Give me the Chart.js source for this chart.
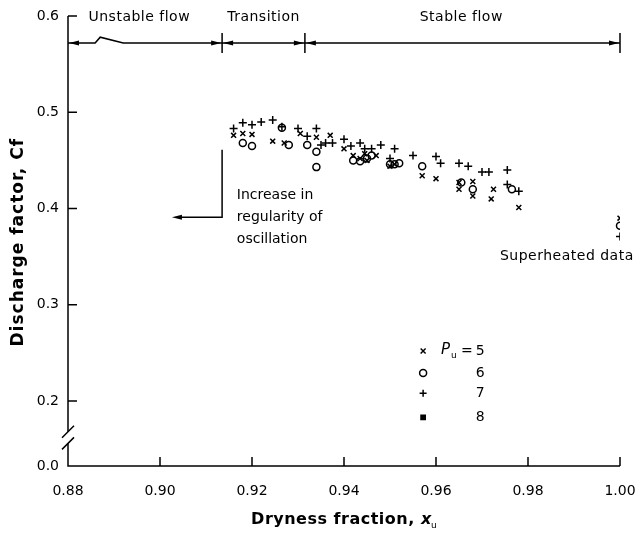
<!DOCTYPE html>
<html>
<head>
<meta charset="utf-8">
<script src="https://cdn.jsdelivr.net/npm/chart.js@4.4.1/dist/chart.umd.min.js"></script>
<style>
html, body { margin: 0; padding: 0; background: #fff; }
#wrap { width: 637px; height: 541px; }
</style>
</head>
<body>
<div id="wrap"><canvas id="chart" width="637" height="541"></canvas></div>
<script>
// ticks
const xTicks = [0.88, 0.90, 0.92, 0.94, 0.96, 0.98, 1.00];
const yTicks = [0.2, 0.3, 0.4, 0.5, 0.6];
const yBreak = 0.1325; // bottom of the broken axis, labelled 0.0

// P_u = 5 (x), 6 (o), 7 (+), 8 (filled square)
const pu5 = [[0.9160,0.476],[0.9180,0.478],[0.9200,0.477],[0.9245,0.470],[0.9270,0.468],[0.9305,0.478],
  [0.9340,0.474],[0.9370,0.476],[0.9400,0.462],[0.9420,0.455],[0.9435,0.452],[0.9445,0.457],[0.9450,0.450],
  [0.9470,0.455],[0.9500,0.444],[0.9510,0.446],[0.9570,0.434],[0.9600,0.431],[0.9650,0.427],[0.9650,0.420],
  [0.9680,0.428],[0.9680,0.413],[0.9720,0.410],[0.9725,0.420],[0.9780,0.401],[1.0000,0.390]];
const pu6 = [[0.9180,0.468],[0.9200,0.465],[0.9265,0.484],[0.9280,0.466],[0.9320,0.466],[0.9340,0.459],
  [0.9340,0.443],[0.9420,0.450],[0.9435,0.449],[0.9450,0.452],[0.9460,0.455],[0.9500,0.446],[0.9510,0.446],
  [0.9520,0.447],[0.9570,0.444],[0.9655,0.427],[0.9680,0.420],[0.9765,0.420],[1.0000,0.382]];
const pu7 = [[0.9160,0.483],[0.9180,0.489],[0.9200,0.487],[0.9220,0.490],[0.9245,0.492],[0.9265,0.485],
  [0.9300,0.483],[0.9320,0.475],[0.9340,0.483],[0.9350,0.466],[0.9360,0.468],[0.9375,0.468],[0.9400,0.472],
  [0.9415,0.465],[0.9435,0.468],[0.9445,0.462],[0.9460,0.462],[0.9480,0.466],[0.9500,0.452],[0.9510,0.462],
  [0.9550,0.455],[0.9600,0.454],[0.9610,0.447],[0.9650,0.447],[0.9670,0.444],[0.9700,0.438],[0.9715,0.438],
  [0.9755,0.440],[0.9755,0.425],[0.9780,0.418],[1.0000,0.371]];
const pu8 = [];

// flow regimes along the top
const regimeBounds = [0.88, 0.9135, 0.9315, 1.00];
const regimeNames = ['Unstable flow', 'Transition', 'Stable flow'];
const regimeY = 0.572;
const bump = [[0.8859,0.572],[0.8870,0.578],[0.8920,0.572]];

// legend
const legendLabels = ['5', '6', '7', '8'];
const legendStyles = ['crossRot', 'circle', 'cross', 'rect'];

const FONT = '"DejaVu Sans", sans-serif';
const toPts = a => a.map(p => ({ x: p[0], y: p[1] }));

function arrowHead(ctx, tipX, y, dir) {
  ctx.beginPath();
  ctx.moveTo(tipX, y);
  ctx.lineTo(tipX - dir * 10, y - 2.5);
  ctx.lineTo(tipX - dir * 10, y + 2.5);
  ctx.closePath();
  ctx.fill();
}

const extras = {
  id: 'extras',
  afterDraw(chart) {
    const ctx = chart.ctx;
    const xs = chart.scales.x, ys = chart.scales.y;
    const X = v => xs.getPixelForValue(v), Y = v => ys.getPixelForValue(v);
    const a = chart.chartArea;
    ctx.save();
    ctx.strokeStyle = '#000';
    ctx.fillStyle = '#000';
    ctx.lineWidth = 1.5;

    // axes
    ctx.beginPath();
    ctx.moveTo(a.left, Y(0.6));
    ctx.lineTo(a.left, a.bottom);
    ctx.lineTo(X(1.0), a.bottom);
    ctx.stroke();
    // inward ticks
    ctx.beginPath();
    yTicks.forEach(v => { ctx.moveTo(a.left, Y(v)); ctx.lineTo(a.left + 9, Y(v)); });
    xTicks.forEach(v => { if (v > 0.88) { ctx.moveTo(X(v), a.bottom); ctx.lineTo(X(v), a.bottom - 9); } });
    ctx.stroke();

    // axis break
    const yb1 = Y(0.168), yb2 = Y(0.156);
    ctx.fillStyle = '#fff';
    ctx.fillRect(a.left - 3, yb1, 6, yb2 - yb1);
    ctx.fillStyle = '#000';
    ctx.beginPath();
    [yb1, yb2].forEach(yy => { ctx.moveTo(a.left - 6, yy + 6); ctx.lineTo(a.left + 6, yy - 6); });
    ctx.stroke();

    // flow regime line
    const ly = Y(regimeY);
    ctx.beginPath();
    ctx.moveTo(X(regimeBounds[0]), ly);
    bump.forEach(p => ctx.lineTo(X(p[0]), Y(p[1])));
    ctx.lineTo(X(regimeBounds[3]), ly);
    ctx.stroke();
    ctx.beginPath();
    regimeBounds.slice(1).forEach(v => { ctx.moveTo(X(v), ly - 10); ctx.lineTo(X(v), ly + 10); });
    ctx.stroke();
    for (let i = 0; i < regimeNames.length; i++) {
      arrowHead(ctx, X(regimeBounds[i]) + 1, ly, -1);
      arrowHead(ctx, X(regimeBounds[i + 1]) - 1, ly, 1);
    }
    ctx.font = '14px ' + FONT;
    ctx.letterSpacing = '0.5px';
    ctx.textAlign = 'center';
    ctx.textBaseline = 'middle';
    const nameX = [0.8955, 0.9225, 0.9655];
    regimeNames.forEach((n, i) => ctx.fillText(n, X(nameX[i]), Y(0.599)));

    // regularity bracket
    ctx.beginPath();
    ctx.moveTo(X(0.9135), Y(0.461));
    ctx.lineTo(X(0.9135), Y(0.391));
    ctx.lineTo(X(0.9040), Y(0.391));
    ctx.stroke();
    arrowHead(ctx, X(0.9026), Y(0.391), -1);
    ctx.textAlign = 'left';
    ctx.letterSpacing = '0px';
    ['Increase in', 'regularity of', 'oscillation'].forEach((t, i) =>
      ctx.fillText(t, X(0.9167), Y(0.4135 - i * 0.0229)));
    ctx.letterSpacing = '0.5px';
    ctx.fillText('Superheated data', X(0.9739), Y(0.350));
    ctx.letterSpacing = '0px';

    // legend
    const lx = X(0.9572);
    const lyv = [0.252, 0.229, 0.208, 0.183];
    legendStyles.forEach((s, i) => {
      const yy = Y(lyv[i]);
      ctx.fillStyle = s === 'rect' ? '#000' : 'rgba(0,0,0,0)';
      Chart.helpers.drawPoint(ctx, { pointStyle: s, radius: s === 'rect' ? 3 : 3.5, borderWidth: 1.5 }, lx, yy);
      ctx.fillStyle = '#000';
      ctx.textAlign = 'center';
      ctx.font = '14px ' + FONT;
      ctx.fillText(legendLabels[i], X(0.9696), yy);
    });
    ctx.font = 'italic 15px ' + FONT;
    ctx.textAlign = 'left';
    ctx.fillText('P', lx + 18, Y(lyv[0]) - 1);
    ctx.font = '9px ' + FONT;
    ctx.fillText('u', lx + 28, Y(lyv[0]) + 5);
    ctx.font = '14px ' + FONT;
    ctx.fillText('=', lx + 38, Y(lyv[0]));

    // axis titles
    ctx.font = 'bold 17px ' + FONT;
    ctx.letterSpacing = '1px';
    ctx.textAlign = 'center';
    ctx.save();
    ctx.translate(19, Y(0.365));
    ctx.rotate(-Math.PI / 2);
    ctx.fillText('Discharge factor, Cf', 0, 0);
    ctx.restore();
    ctx.font = 'bold 16px ' + FONT;
    ctx.letterSpacing = '0.5px';
    const tTxt = 'Dryness fraction, ';
    const tw = ctx.measureText(tTxt).width;
    const cx = X(0.94) - 8;
    ctx.textAlign = 'left';
    ctx.fillText(tTxt, cx - tw / 2, 520);
    ctx.font = 'italic bold 16px ' + FONT;
    ctx.fillText('x', cx + tw / 2, 520);
    ctx.font = '9px ' + FONT;
    ctx.fillText('u', cx + tw / 2 + 10, 526);
    ctx.restore();
  }
};

const base = { backgroundColor: 'rgba(0,0,0,0)', borderColor: '#000', borderWidth: 1.5, showLine: false };

new Chart(document.getElementById('chart'), {
  type: 'scatter',
  data: {
    datasets: [
      { ...base, label: '5', data: toPts(pu5), pointStyle: 'crossRot', pointRadius: 3.5 },
      { ...base, label: '6', data: toPts(pu6), pointStyle: 'circle', pointRadius: 3.5 },
      { ...base, label: '7', data: toPts(pu7), pointStyle: 'cross', pointRadius: 4 },
      { ...base, label: '8', data: toPts(pu8), pointStyle: 'rect', pointRadius: 3, backgroundColor: '#000' }
    ]
  },
  options: {
    responsive: false,
    animation: false,
    devicePixelRatio: 1,
    layout: { padding: { top: 16, right: 17, left: 0, bottom: 0 } },
    plugins: { legend: { display: false }, tooltip: { enabled: false } },
    scales: {
      x: {
        type: 'linear', min: 0.88, max: 1.0,
        afterBuildTicks: s => { s.ticks = xTicks.map(v => ({ value: v })); },
        afterFit: s => { s.height = 75; s.paddingRight = 0; s.paddingLeft = 0; },
        grid: { display: false }, border: { display: false },
        ticks: { color: '#000', font: { family: FONT, size: 14 }, padding: 9, maxRotation: 0,
                 callback: v => v.toFixed(2) }
      },
      y: {
        type: 'linear', min: yBreak, max: 0.6,
        afterBuildTicks: s => { s.ticks = [yBreak, ...yTicks].map(v => ({ value: v })); },
        afterFit: s => { s.width = 68; s.paddingTop = 0; s.paddingBottom = 0; },
        grid: { display: false }, border: { display: false },
        ticks: { color: '#000', font: { family: FONT, size: 14 }, padding: 1,
                 callback: v => (v === yBreak ? '0.0' : v.toFixed(1)) }
      }
    }
  },
  plugins: [extras]
});
</script>
</body>
</html>
